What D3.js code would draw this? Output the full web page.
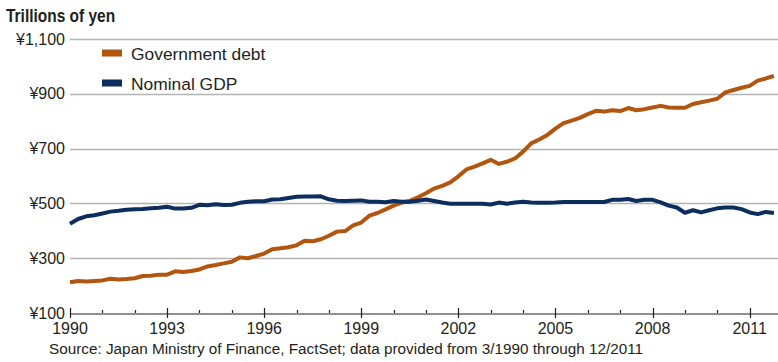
<!DOCTYPE html>
<html>
<head>
<meta charset="utf-8">
<script src="https://cdn.jsdelivr.net/npm/d3@7"></script>
<style>
  html, body { margin: 0; padding: 0; background: #fff; }
  svg { display: block; }
  text { font-family: "Liberation Sans", Arial, sans-serif; fill: #231f20; }
</style>
</head>
<body>
<svg id="chart" width="778" height="362"></svg>
<script>
// Quarterly series, 3/1990 through 12/2011 (trillions of yen)
const startYear = 1990;
const governmentDebt = [
  212, 217, 215, 217, 219, 225, 222, 224, 227, 235, 236, 240,
  240, 252, 250, 253, 259, 270, 275, 281, 287, 303, 300, 308,
  317, 333, 336, 340, 347, 364, 362, 369, 382, 397, 399, 420,
  430, 455, 465, 478, 492, 503, 509, 522, 537, 554, 564, 577,
  599, 624, 634, 646, 659, 644, 652, 664, 689, 719, 733, 750,
  773, 793, 802, 812, 826, 838, 835, 840, 837, 848, 840, 844,
  850, 856, 850, 849, 849, 863, 869, 875, 882, 905, 914, 922,
  929, 948, 956, 965
];
const nominalGDP = [
  426, 443, 453, 457, 463, 470, 473, 477, 479, 480, 482, 484,
  488, 481, 481, 484, 495, 493, 497, 494, 495, 502, 506, 508,
  508, 514, 515, 520, 524, 525, 525, 526, 515, 510, 509, 510,
  511, 506, 506, 504, 509, 506, 506, 510, 514, 509, 503, 499,
  499, 499, 499, 499, 496, 503, 499, 503, 506, 503, 502, 502,
  503, 505, 505, 505, 505, 505, 505, 513, 513, 516, 509, 513,
  513, 504, 492, 485, 466, 475, 467, 475, 482, 485, 485, 479,
  467, 461, 469, 465
];
const yTicks = [100, 300, 500, 700, 900, 1100];
const yTickLabels = ["¥100", "¥300", "¥500", "¥700", "¥900", "¥1,100"];
const xLabelYears = [1990, 1993, 1996, 1999, 2002, 2005, 2008, 2011];
const seriesNames = ["Government debt", "Nominal GDP"];
const seriesColors = ["#b2560f", "#0b2e5e"];

const svg = d3.select("#chart");

const x = d3.scaleLinear().domain([1990, 2012]).range([70, 782]);
const y = d3.scaleLinear().domain([100, 1100]).range([313, 39]);

const quarterTime = i => startYear + i / 4;

// Title (condensed bold)
svg.append("text")
  .attr("transform", "translate(6,22) scale(0.86,1)")
  .style("font-weight", "bold")
  .style("font-size", "18px")
  .text("Trillions of yen");

// Horizontal grid lines
svg.append("g")
  .selectAll("line")
  .data(yTicks.slice(1))
  .join("line")
  .attr("x1", 70).attr("x2", 778)
  .attr("y1", d => Math.round(y(d)) + 0.5)
  .attr("y2", d => Math.round(y(d)) + 0.5)
  .attr("stroke", "#b3b3b3")
  .attr("stroke-width", 1.3);

// Y labels
svg.append("g")
  .selectAll("text")
  .data(yTicks)
  .join("text")
  .attr("x", 65)
  .attr("y", d => y(d) + 5.5)
  .attr("text-anchor", "end")
  .style("font-size", "16px")
  .text((d, i) => yTickLabels[i]);

// X axis: yearly minor ticks, labelled every three years
const xAxis = d3.axisBottom(x)
  .tickValues(d3.range(1990, 2013))
  .tickSize(0)
  .tickFormat("");
const gx = svg.append("g").attr("transform", "translate(0,313.5)").call(xAxis);
gx.select(".domain").attr("stroke", "#231f20").attr("stroke-width", 1.2);

const years = d3.range(1990, 2013);
svg.append("g")
  .selectAll("line")
  .data(years)
  .join("line")
  .attr("x1", d => Math.round(x(d)) + 0.5)
  .attr("x2", d => Math.round(x(d)) + 0.5)
  .attr("y1", d => xLabelYears.includes(d) ? 308 : 310)
  .attr("y2", d => xLabelYears.includes(d) ? 318 : 313)
  .attr("stroke", "#231f20")
  .attr("stroke-width", 1.2);

svg.append("g")
  .selectAll("text")
  .data(xLabelYears)
  .join("text")
  .attr("x", d => x(d))
  .attr("y", 334)
  .attr("text-anchor", "middle")
  .style("font-size", "16px")
  .text(d => d);

// Lines
const line = d3.line()
  .x((d, i) => x(quarterTime(i)))
  .y(d => y(d));

[governmentDebt, nominalGDP].forEach((series, k) => {
  svg.append("path")
    .datum(series)
    .attr("fill", "none")
    .attr("stroke", seriesColors[k])
    .attr("stroke-width", 4)
    .attr("stroke-linejoin", "round")
    .attr("d", line);
});

// Legend
const legend = svg.append("g");
seriesNames.forEach((name, k) => {
  const cy = 53 + k * 30;
  legend.append("rect")
    .attr("x", 102).attr("y", cy - 3.5)
    .attr("width", 20).attr("height", 7)
    .attr("fill", seriesColors[k]);
  legend.append("text")
    .attr("x", 131).attr("y", cy + 6.5)
    .style("font-size", "17.4px")
    .text(name);
});

// Source note
svg.append("text")
  .attr("x", 49).attr("y", 354)
  .style("font-size", "15.3px")
  .text("Source: Japan Ministry of Finance, FactSet; data provided from 3/1990 through 12/2011");
</script>
</body>
</html>
